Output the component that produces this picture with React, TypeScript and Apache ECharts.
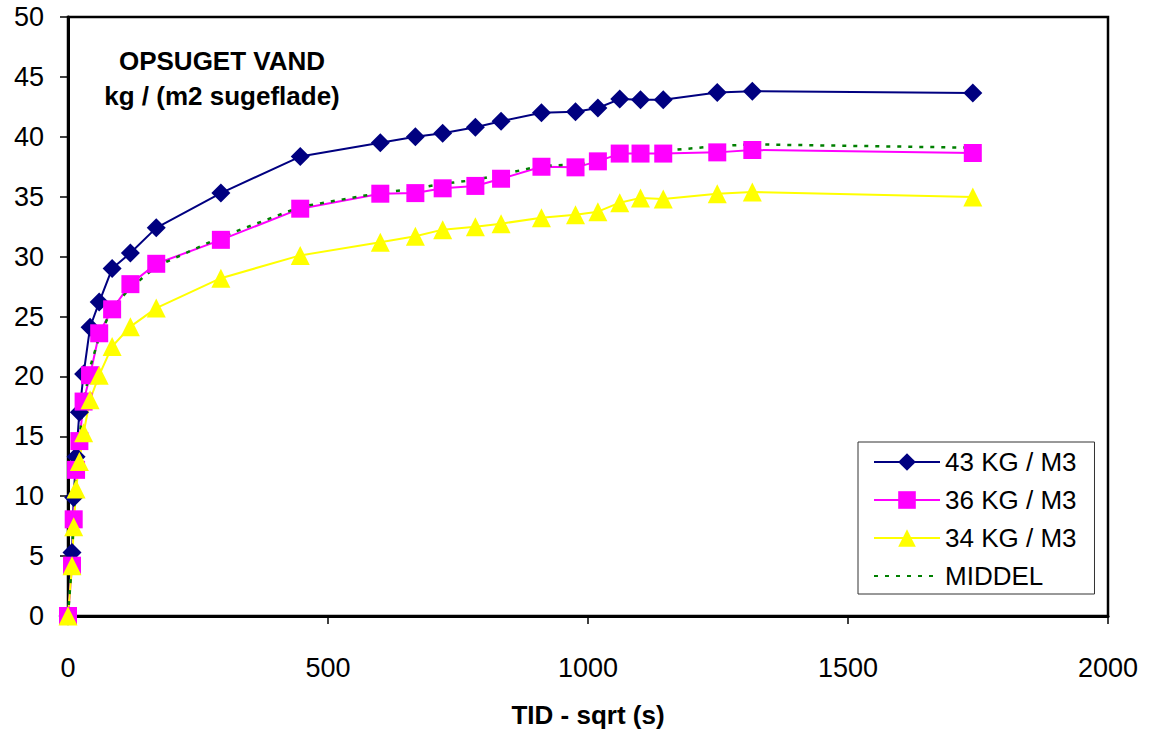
import React, { useEffect, useRef } from 'react';
import * as echarts from 'echarts';

// x: TID - sqrt (s)
const timeSqrt = [0, 7.75, 10.95, 15.5, 21.9, 30, 42.4, 60, 84.85, 120, 169.7, 294, 446.6, 600.6, 668, 720.5, 783.4, 832.8, 910.5, 976, 1019, 1061, 1101, 1144.7, 1248.6, 1316, 1740];
const kg43 = [0, 5.3, 9.9, 13.3, 17.0, 20.2, 24.1, 26.2, 29.0, 30.3, 32.4, 35.3, 38.35, 39.5, 40.0, 40.3, 40.8, 41.3, 42.0, 42.1, 42.4, 43.15, 43.1, 43.1, 43.7, 43.8, 43.65];
const kg36 = [0, 4.2, 8.07, 12.2, 14.6, 17.9, 20.1, 23.6, 25.6, 27.7, 29.4, 31.4, 34.0, 35.25, 35.3, 35.7, 35.9, 36.5, 37.5, 37.45, 37.95, 38.6, 38.6, 38.6, 38.7, 38.9, 38.65];
const kg34 = [0, 4.2, 7.46, 10.6, 12.9, 15.3, 18.05, 20.1, 22.5, 24.15, 25.7, 28.2, 30.1, 31.2, 31.7, 32.25, 32.5, 32.75, 33.25, 33.5, 33.75, 34.5, 34.9, 34.8, 35.25, 35.4, 34.97];
const middel = [0, 4.57, 8.48, 12.03, 14.83, 17.8, 20.75, 23.3, 25.7, 27.38, 29.17, 31.63, 34.15, 35.32, 35.67, 36.08, 36.4, 36.85, 37.58, 37.68, 38.03, 38.75, 38.87, 38.83, 39.22, 39.37, 39.09];

const seriesNames = ['43 KG / M3', '36 KG / M3', '34 KG / M3', 'MIDDEL'];
const titleLines = ['OPSUGET VAND', 'kg / (m2 sugeflade)'];
const xAxisName = 'TID - sqrt (s)';

const FONT = '"Liberation Sans", Arial, sans-serif';

export default function App() {
  const ref = useRef<HTMLDivElement>(null);
  useEffect(() => {
    const chart = echarts.init(ref.current!, null, { renderer: 'svg' });
    const pairs = (ys: number[]) => timeSqrt.map((x, i) => [x, ys[i]]);
    chart.setOption({
      animation: false,
      backgroundColor: '#ffffff',
      textStyle: { fontFamily: FONT, color: '#000' },
      grid: {
        left: 68, right: 43, top: 17, bottom: 118,
        show: true, borderColor: '#000', borderWidth: 2.5, backgroundColor: '#fff',
      },
      graphic: [
        {
          type: 'text', x: 222, y: 61,
          style: { text: titleLines[0], font: `bold 26px ${FONT}`, fill: '#000', textAlign: 'center', textVerticalAlign: 'middle' },
        },
        {
          type: 'text', x: 222, y: 96,
          style: { text: titleLines[1], font: `bold 26px ${FONT}`, fill: '#000', textAlign: 'center', textVerticalAlign: 'middle' },
        },
      ],
      xAxis: {
        type: 'value', min: 0, max: 2000, interval: 500,
        name: xAxisName, nameLocation: 'middle', nameGap: 86,
        nameTextStyle: { fontSize: 26, fontWeight: 'bold', color: '#000', fontFamily: FONT },
        axisLine: { show: true, lineStyle: { color: '#000', width: 3 } },
        axisTick: { show: true, length: 8, lineStyle: { color: '#000', width: 1.5 } },
        axisLabel: { fontSize: 27, color: '#000', margin: 38, fontFamily: FONT, formatter: (v: number) => String(v) },
        splitLine: { show: false },
      },
      yAxis: {
        type: 'value', min: 0, max: 50, interval: 5,
        axisLine: { show: true, lineStyle: { color: '#000', width: 3 } },
        axisTick: { show: true, length: 8, lineStyle: { color: '#000', width: 1.5 } },
        axisLabel: { fontSize: 27, color: '#000', margin: 24, fontFamily: FONT, padding: [10, 0, 0, 0], formatter: (v: number) => String(v) },
        splitLine: { show: false },
      },
      legend: {
        orient: 'vertical', left: 858, top: 442,
        padding: [5, 18, 3, 15],
        itemWidth: 66, itemHeight: 22, itemGap: 8,
        backgroundColor: '#fff', borderColor: '#333', borderWidth: 1,
        textStyle: { fontSize: 26, color: '#000', fontFamily: FONT, lineHeight: 30 },
        data: [
          seriesNames[0],
          seriesNames[1],
          seriesNames[2],
          { name: seriesNames[3], itemStyle: { color: 'rgba(0,0,0,0)', opacity: 0, borderWidth: 0 } },
        ],
      },
      series: [
        {
          name: seriesNames[0], type: 'line', data: pairs(kg43), clip: false,
          symbol: 'diamond', symbolSize: 19,
          itemStyle: { color: '#000080' }, lineStyle: { color: '#000080', width: 2 },
        },
        {
          name: seriesNames[1], type: 'line', data: pairs(kg36), clip: false,
          symbol: 'rect', symbolSize: 18,
          itemStyle: { color: '#FF00FF' }, lineStyle: { color: '#FF00FF', width: 2 },
        },
        {
          name: seriesNames[2], type: 'line', data: pairs(kg34), clip: false,
          symbol: 'triangle', symbolSize: 19,
          itemStyle: { color: '#FFFF00' }, lineStyle: { color: '#FFFF00', width: 2 },
        },
        {
          name: seriesNames[3], type: 'line', data: pairs(middel), clip: false,
          symbol: 'none',
          itemStyle: { color: '#008000' }, lineStyle: { color: '#008000', width: 2.5, type: [4, 7] },
        },
      ],
    });
    return () => chart.dispose();
  }, []);
  return <div ref={ref} style={{ position: 'fixed', left: 0, top: 0, width: 1151, height: 734 }} />;
}
